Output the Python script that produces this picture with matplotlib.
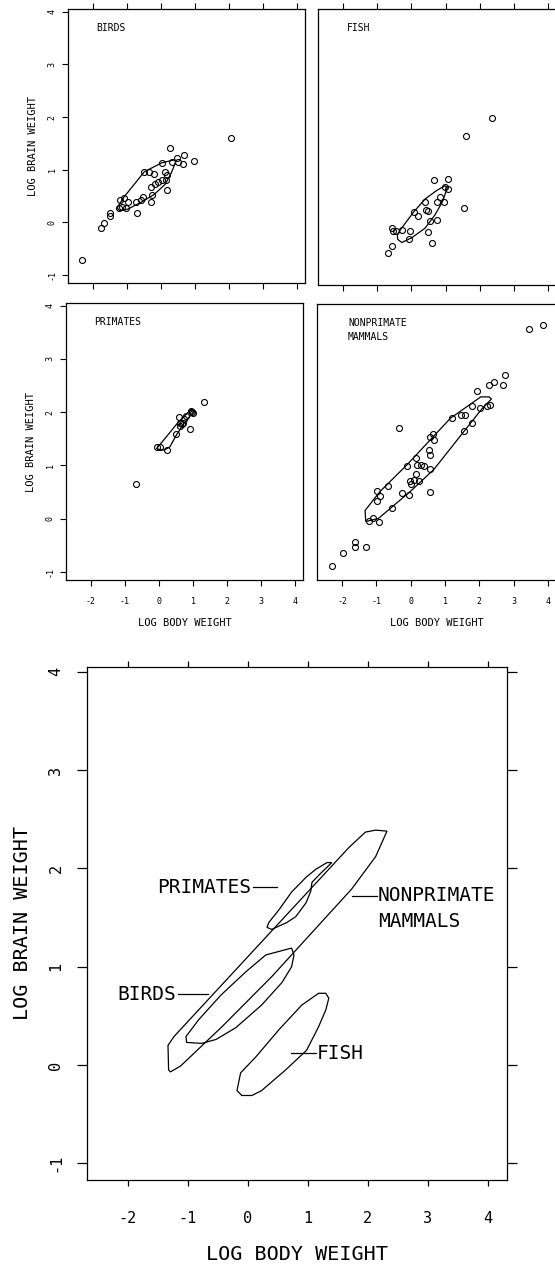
import matplotlib
matplotlib.use('Agg')
import matplotlib.pyplot as plt

plt.rcParams['font.family'] = ['DejaVu Sans Mono', 'DejaVu Sans']
plt.rcParams['axes.unicode_minus'] = False

# --- scatter data (log10 body weight, log10 brain weight) ---
birds_x = [-2.33, 2.05, -1.77, -1.68, -1.51, -1.51, -1.24, -1.20, -1.10, -1.14, -1.02, -0.98,
           -0.71, -0.73, -0.59, -0.54, -0.30, -0.25, -0.49, -0.35, -0.20, -0.30, -0.17, -0.08,
           0.02, 0.11, 0.18, 0.14, 0.18, 0.02, 0.28, 0.47, 0.50, 0.64, 0.67, 0.96, 0.33]
birds_y = [-0.72, 1.61, -0.11, -0.02, 0.13, 0.17, 0.27, 0.42, 0.47, 0.30, 0.28, 0.39,
           0.17, 0.39, 0.42, 0.49, 0.38, 0.52, 0.96, 0.96, 0.91, 0.68, 0.72, 0.77,
           0.80, 0.95, 0.90, 0.80, 0.61, 1.13, 1.41, 1.22, 1.15, 1.10, 1.28, 1.17, 1.14]

fish_x = [2.35, 1.59, 1.55, 0.67, 1.06, 0.98, 1.08, 0.84, 0.96, 0.74, 0.40, 0.09, 0.20, 0.43,
          0.50, 0.76, 0.54, 0.48, 0.59, -0.04, -0.07, -0.28, -0.58, -0.53, -0.46, -0.56, -0.68]
fish_y = [1.99, 1.65, 0.30, 0.82, 0.85, 0.70, 0.65, 0.51, 0.42, 0.42, 0.42, 0.22, 0.15, 0.27,
          0.25, 0.08, 0.06, -0.15, -0.35, -0.13, -0.29, -0.11, -0.07, -0.13, -0.13, -0.42, -0.54]

primates_x = [-0.68, 1.31, -0.05, 0.03, 0.24, 0.58, 0.73, 0.68, 0.63, 0.61, 0.49, 0.92,
              0.97, 0.94, 1.00, 0.78, 0.71]
primates_y = [0.66, 2.19, 1.35, 1.34, 1.29, 1.91, 1.87, 1.77, 1.80, 1.74, 1.59, 1.69,
              2.01, 2.03, 1.99, 1.93, 1.80]

mammals_x = [3.45, 3.84, 2.74, 2.69, 2.41, 2.28, 1.94, 2.31, 2.23, 2.03, 1.79, 1.57, 1.45, 1.21,
             1.79, 1.55, -0.33, 0.57, 0.65, 0.67, 0.52, 0.57, 0.16, -0.11, 0.18, 0.31, 0.40,
             0.55, 0.16, 0.09, 0.23, -0.01, 0.02, 0.57, -0.06, -0.26, -0.55, -0.67, -0.97,
             -0.89, -0.97, -1.10, -1.23, -0.91, -1.62, -1.62, -1.30, -1.98, -2.28]
mammals_y = [3.57, 3.65, 2.72, 2.53, 2.58, 2.52, 2.41, 2.15, 2.13, 2.10, 2.12, 1.96, 1.95, 1.90,
             1.80, 1.65, 1.72, 1.55, 1.60, 1.49, 1.30, 1.21, 1.15, 0.99, 1.01, 1.01, 0.99,
             0.94, 0.84, 0.74, 0.71, 0.71, 0.65, 0.51, 0.46, 0.49, 0.21, 0.62, 0.52,
             0.43, 0.34, 0.01, -0.04, -0.06, -0.44, -0.52, -0.52, -0.65, -0.88]

# --- contour outlines as drawn in the small panels ---
birds_hull_x = [-1.29, -1.10, -0.49, 0.02, 0.41, 0.43, 0.31, 0.12, -0.20, -0.59, -0.98, -1.20]
birds_hull_y = [0.27, 0.47, 0.96, 1.13, 1.19, 1.14, 0.95, 0.72, 0.53, 0.38, 0.25, 0.22]
fish_hull_x = [-0.41, -0.31, 0.06, 0.40, 0.74, 0.98, 1.05, 0.91, 0.69, 0.40, 0.01, -0.28, -0.40]
fish_hull_y = [-0.20, -0.10, 0.22, 0.47, 0.63, 0.72, 0.68, 0.42, 0.17, -0.08, -0.26, -0.35, -0.29]
primates_hull_x = [-0.07, 0.22, 0.55, 0.94, 1.02, 0.75, 0.51, 0.32, 0.16, -0.03]
primates_hull_y = [1.32, 1.54, 1.80, 2.05, 2.01, 1.80, 1.57, 1.35, 1.29, 1.30]
mammals_hull_x = [-1.33, -1.31, -0.94, -0.01, 0.67, 1.55, 2.08, 2.35, 2.28, 2.04, 1.16, -0.11, -0.89]
mammals_hull_y = [0.16, -0.05, 0.01, 0.52, 0.93, 1.65, 2.08, 2.26, 2.30, 2.30, 1.90, 1.02, 0.52]

# --- contour outlines as drawn in the superposed chart ---
birds_big_x = [0.73, 0.30, -0.03, -0.45, -0.82, -1.03, -1.02, -0.77, -0.53, -0.20, 0.23, 0.57, 0.73, 0.77]
birds_big_y = [1.19, 1.12, 0.95, 0.71, 0.46, 0.29, 0.23, 0.22, 0.26, 0.38, 0.61, 0.84, 1.00, 1.12]
fish_big_x = [1.30, 1.18, 0.90, 0.52, 0.13, -0.12, -0.18, -0.10, 0.07, 0.23, 0.63, 0.98, 1.18, 1.30, 1.35]
fish_big_y = [0.73, 0.73, 0.61, 0.36, 0.08, -0.08, -0.26, -0.31, -0.31, -0.26, -0.05, 0.15, 0.39, 0.56, 0.68]
primates_big_x = [1.40, 1.32, 1.13, 0.97, 0.73, 0.52, 0.35, 0.32, 0.40, 0.65, 0.80, 0.97, 1.05, 1.07, 1.23]
primates_big_y = [2.06, 2.06, 1.99, 1.91, 1.76, 1.58, 1.45, 1.40, 1.38, 1.45, 1.51, 1.65, 1.77, 1.86, 1.96]
mammals_big_x = [-1.33, -1.32, -1.29, -1.12, -0.43, 0.40, 1.73, 2.13, 2.32, 2.13, 1.96, 1.68, -1.23]
mammals_big_y = [0.20, -0.05, -0.07, -0.01, 0.39, 0.90, 1.79, 2.12, 2.38, 2.39, 2.37, 2.21, 0.29]

ticks_x = [-2, -1, 0, 1, 2, 3, 4]
ticks_y = [-1, 0, 1, 2, 3, 4]

W, H = 555, 1265


def box(l, t, r, b):
    return [l / W, 1 - b / H, (r - l) / W, (b - t) / H]


fig = plt.figure(figsize=(W / 100, H / 100), dpi=100)


def small_panel(rect, px, py, hx, hy, name, bottom_row, left_col):
    ax = fig.add_axes(rect)
    ax.plot(px, py, 'o', mfc='none', mec='black', ms=4.3, mew=0.8)
    ax.fill(hx, hy, facecolor='none', edgecolor='black', linewidth=0.9)
    ax.set_xlim(-2.73, 4.23)
    ax.set_ylim(-1.15, 4.05)
    ax.set_xticks(ticks_x)
    ax.set_yticks(ticks_y)
    ax.tick_params(direction='out', length=4, width=0.8, labelsize=6)
    ax.tick_params(axis='x', top=not bottom_row, pad=8)
    ax.tick_params(axis='y', pad=4)
    for lab in ax.get_yticklabels():
        lab.set_rotation(90)
        lab.set_va('center')
    if not bottom_row:
        ax.set_xticklabels([])
    else:
        ax.set_xlabel('LOG BODY WEIGHT', fontsize=7.5, labelpad=9)
    if not left_col:
        ax.set_yticks([])
    else:
        ax.set_ylabel('LOG BRAIN WEIGHT', fontsize=7.5, labelpad=7)
    for s in ax.spines.values():
        s.set_linewidth(0.9)
    ax.text(0.12, 0.93, name, transform=ax.transAxes, fontsize=7,
            va='center', ha='left', linespacing=1.5)
    return ax


small_panel(box(68, 9, 305, 283), birds_x, birds_y, birds_hull_x, birds_hull_y, 'BIRDS', False, True)
small_panel(box(318, 9, 556, 285), fish_x, fish_y, fish_hull_x, fish_hull_y, 'FISH', False, False)
small_panel(box(66, 303, 303, 580), primates_x, primates_y, primates_hull_x, primates_hull_y,
            'PRIMATES', True, True)
ax4 = small_panel(box(317, 304, 556, 580), mammals_x, mammals_y, mammals_hull_x, mammals_hull_y,
                  'NONPRIMATE\nMAMMALS', True, False)
ax4.texts[0].set_position((0.13, 0.905))

# --- superposed outlines ---
ax = fig.add_axes(box(87, 667, 507, 1180))
for hx, hy in [(birds_big_x, birds_big_y), (fish_big_x, fish_big_y),
               (primates_big_x, primates_big_y), (mammals_big_x, mammals_big_y)]:
    ax.fill(hx, hy, facecolor='none', edgecolor='black', linewidth=0.9)
ax.set_xlim(-2.68, 4.32)
ax.set_ylim(-1.17, 4.05)
ax.set_xticks(ticks_x)
ax.set_yticks(ticks_y)
ax.tick_params(direction='out', width=0.9, labelsize=11, top=True, right=True,
               labelright=False, labeltop=False)
ax.tick_params(axis='y', length=7, pad=10)
ax.tick_params(axis='x', length=4, pad=18)
for lab in ax.get_yticklabels():
    lab.set_rotation(90)
    lab.set_va('center')
for s in ax.spines.values():
    s.set_linewidth(0.9)
ax.set_xlabel('LOG BODY WEIGHT', fontsize=14.5, labelpad=14)
ax.set_ylabel('LOG BRAIN WEIGHT', fontsize=14.5, labelpad=12)

# group labels with leader lines
ax.plot([0.08, 0.48], [1.81, 1.81], color='black', lw=0.9)
ax.text(0.05, 1.81, 'PRIMATES', fontsize=14, ha='right', va='center')
ax.plot([1.73, 2.15], [1.72, 1.72], color='black', lw=0.9)
ax.text(2.17, 1.72, 'NONPRIMATE', fontsize=14, ha='left', va='center')
ax.text(2.17, 1.46, 'MAMMALS', fontsize=14, ha='left', va='center')
ax.plot([-1.17, -0.66], [0.72, 0.72], color='black', lw=0.9)
ax.text(-1.2, 0.72, 'BIRDS', fontsize=14, ha='right', va='center')
ax.plot([0.72, 1.13], [0.12, 0.12], color='black', lw=0.9)
ax.text(1.15, 0.12, 'FISH', fontsize=14, ha='left', va='center')

plt.savefig('out.png', dpi=100)
